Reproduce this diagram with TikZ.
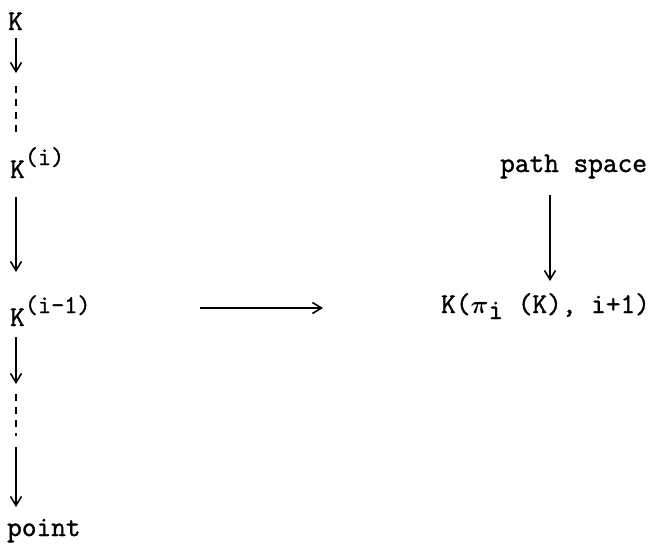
\documentclass[tikz,border=0pt]{standalone}
\usepackage{fontspec}
\usetikzlibrary{arrows.meta}
\newfontfamily\twfont{Latin Modern Mono}[FakeBold=1.3]
\newcommand\tw{\twfont\fontsize{28.5}{31}\selectfont}
\newcommand\rsup[1]{\raisebox{13pt}{\fontsize{25.5}{27}\selectfont#1}}
\begin{document}
\begin{tikzpicture}[x=1pt,y=-1pt,
  txt/.style={font=\tw, inner sep=0pt, anchor=base west},
  arr/.style={-{Straight Barb[length=9pt,width=11pt,line width=1.6pt]}, line width=1.6pt},
  dsh/.style={line width=1.6pt, dash pattern=on 7pt off 6pt}]
\path[use as bounding box, fill=white] (0,0) rectangle (649,547);
\node[txt] (K) at (8,30) {K};
\node[txt] (Ki) at (10,178) {K\rsup{(i)}};
\node[txt] (Kj) at (10,326) {K\rsup{(i-1)}};
\node[txt] (pt) at (7,536) {point};
\node[txt] (ps) at (500,172) {path space};
\node[txt] (EM) at (441,313) {K({\boldmath$\pi$}\raisebox{-6pt}{i} (K), i+1)};
% left column
\coordinate (a1) at (16,38);
\coordinate (a2) at (16,73);
\coordinate (d1) at (16,86);
\coordinate (d2) at (16,138);
\coordinate (b1) at (16,197);
\coordinate (b2) at (16,272);
\coordinate (c1) at (16,337);
\coordinate (c2) at (16,384);
\coordinate (e1) at (16,394);
\coordinate (e2) at (16,436);
\coordinate (f1) at (16,447);
\coordinate (f2) at (16,507);
\draw[arr] (a1) -- (a2);
\draw[dsh] (d1) -- (d2);
\draw[arr] (b1) -- (b2);
\draw[arr] (c1) -- (c2);
\draw[dsh] (e1) -- (e2);
\draw[arr] (f1) -- (f2);
% horizontal
\coordinate (h1) at (200,308);
\coordinate (h2) at (323,308);
\draw[arr] (h1) -- (h2);
% right vertical
\coordinate (v1) at (550,195);
\coordinate (v2) at (550,281);
\draw[arr] (v1) -- (v2);
\end{tikzpicture}
\end{document}
